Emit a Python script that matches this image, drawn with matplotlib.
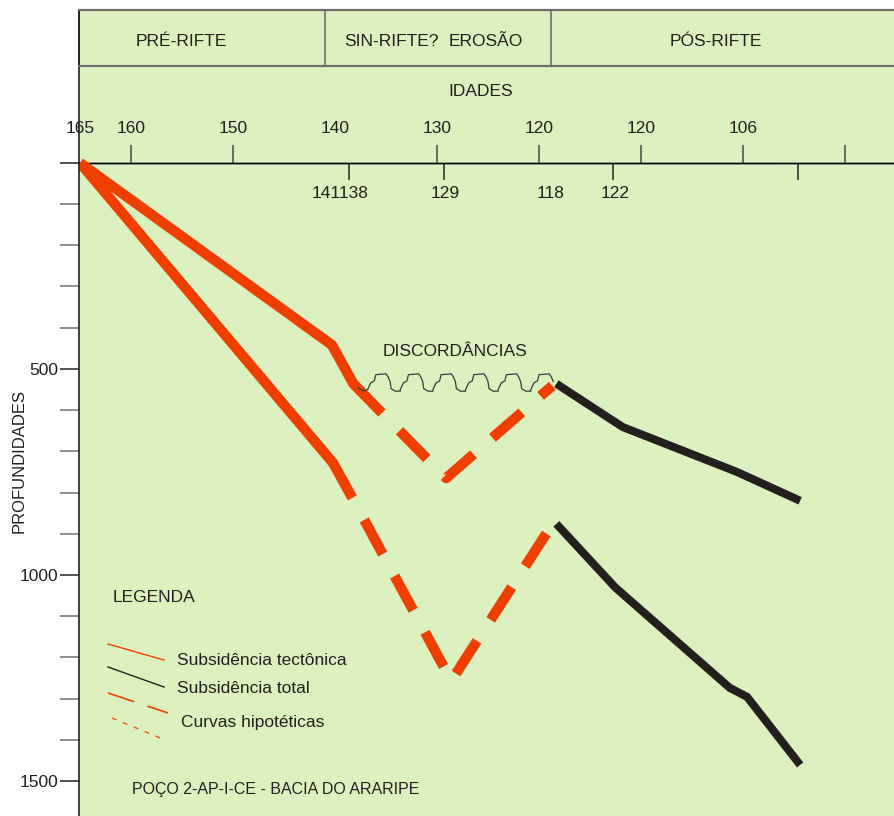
import numpy as np
import matplotlib.pyplot as plt

plt.rcParams['font.family'] = ['Liberation Sans', 'DejaVu Sans']
plt.rcParams['lines.scale_dashes'] = False

# curva superior (idade em Ma, profundidade em m)
sup_idade = [165, 140.3, 138.2, 135.4]
sup_prof = [0, 442, 536, 607]
sup_hip_idade = [135.4, 129.1, 118.7]
sup_hip_prof = [607, 765, 541]

# curva inferior
inf_idade = [165, 140.2, 138.3]
inf_prof = [0, 728, 813]
inf_hip_idade = [138.3, 128.6, 118.8]
inf_hip_prof = [813, 1257, 881]

# pos-rifte
pos_sup_idade = [118.3, 111.8, 100.6, 94.4]
pos_sup_prof = [536, 641, 750, 820]
pos_inf_idade = [118.3, 112.5, 101.3, 99.6, 94.4]
pos_inf_prof = [876, 1031, 1274, 1296, 1461]

# eixo de idades
idades_sup_pos = [165, 160, 150, 140, 130, 120, 110, 100]
idades_sup_txt = ['165', '160', '150', '140', '130', '120', '120', '106']
marcas_sup = [160, 150, 130, 120, 110, 100, 90]
idades_inf_pos = [139.5, 129.2, 118.9, 112.5]
idades_inf_txt = ['141138', '129', '118', '122']
marcas_inf = [138.6, 129.3, 112.7, 94.6]

# profundidades
prof_ticks = [0, 500, 1000, 1500]
prof_txt = ['', '500', '1000', '1500']
prof_menores = [100, 200, 300, 400, 600, 700, 800, 900, 1100, 1200, 1300, 1400]

# fases
fases = ['PRÉ-RIFTE', 'SIN-RIFTE?', 'EROSÃO', 'PÓS-RIFTE']
fases_pos = [155.1, 134.5, 125.2, 102.7]
fases_lim = [141.0, 118.8]

# simbolo da discordancia (um dente)
dente_dx = [0, 0.3, 0.65, 0.8, 1.8, 2.0, 2.2, 2.3, 2.7, 3.2]
dente_dy = [38, 22, 17, 2, 0, 7, 19, 36, 42, 42]

verde = '#dcf0c0'
vermelho = '#ee3f00'
preto = '#221f1c'
cinza = '#6e6e6e'
texto = '#231f20'
fs = 12.5

fig = plt.figure(figsize=(8.95, 8.16), dpi=100)
ax = fig.add_axes([79 / 895, 0, 816 / 895, 806 / 816])
ax.set_facecolor(verde)
ax.set_xlim(165.1, 85.1)
ax.set_ylim(1585, -371)
for s in ['top', 'right', 'bottom']:
    ax.spines[s].set_visible(False)
ax.spines['left'].set_color(preto)
ax.spines['left'].set_linewidth(1.2)
ax.tick_params(axis='x', bottom=False, labelbottom=False)

ax.set_yticks(prof_ticks, labels=prof_txt)
ax.set_yticks(prof_menores, minor=True)
ax.tick_params(axis='y', which='both', length=13.7, width=1.2, pad=1,
               labelsize=fs, labelcolor=texto)
ax.tick_params(axis='y', which='major', color='#333333')
ax.tick_params(axis='y', which='minor', color='#7a7a7a')

# eixo das idades na profundidade zero
topo = ax.secondary_xaxis(0, transform=ax.transData)
topo.set_alignment('top')
topo.xaxis.remove_overlapping_locs = False
topo.set_xticks(idades_sup_pos, labels=idades_sup_txt)
topo.set_xticks(marcas_sup, minor=True)
topo.tick_params(which='major', length=0, pad=19, labelsize=fs, labelcolor=texto)
topo.tick_params(which='minor', length=13, width=1.2, color='#555555')
topo.spines['top'].set_linewidth(1)
topo.spines['top'].set_color('black')

base = ax.secondary_xaxis(0, transform=ax.transData)
base.set_alignment('bottom')
base.xaxis.remove_overlapping_locs = False
base.set_xticks(idades_inf_pos, labels=idades_inf_txt)
base.set_xticks(marcas_inf, minor=True)
base.tick_params(which='major', length=0, pad=16.5, labelsize=fs, labelcolor=texto)
base.tick_params(which='minor', length=12.5, width=1.2, color='#333333')
base.spines['bottom'].set_linewidth(1)
base.spines['bottom'].set_color('black')

# curvas
kw = dict(solid_joinstyle='miter', solid_capstyle='butt', dash_capstyle='butt')
tracejado = (28, (28, 18))
ax.plot(sup_idade, sup_prof, color=vermelho, lw=7.4, **kw)
ax.plot(inf_idade, inf_prof, color=vermelho, lw=7.4, **kw)
ax.plot(sup_hip_idade, sup_hip_prof, color=vermelho, lw=7.4, ls=tracejado, **kw)
ax.plot(inf_hip_idade, inf_hip_prof, color=vermelho, lw=7.4, ls=tracejado, **kw)
ax.plot(pos_sup_idade, pos_sup_prof, color=preto, lw=5.8, **kw)
ax.plot(pos_inf_idade, pos_inf_prof, color=preto, lw=5.8, **kw)

# discordancia
onda_x = [137.75, 137.25]
onda_y = [546, 553]
for i in range(6):
    x0 = 136.8 - 3.2 * i
    for dx, dy in zip(dente_dx, dente_dy):
        if x0 - dx >= 118.6:
            onda_x.append(x0 - dx)
            onda_y.append(512 + dy)
ax.plot(onda_x, onda_y, color='#3a3a3a', lw=0.9)
ax.text(0.4608, 0.5757, 'DISCORDÂNCIAS', transform=ax.transAxes,
        ha='center', va='center', fontsize=fs, color=texto)

ax.text(0.4926, 0.8995, 'IDADES', transform=ax.transAxes,
        ha='center', va='center', fontsize=fs, color=texto)

# legenda
ax.text(0.0417, 0.2705, 'LEGENDA', transform=ax.transAxes,
        ha='left', va='center', fontsize=fs, color=texto)
ax.plot([0.0355, 0.1042], [0.2134, 0.1935], transform=ax.transAxes,
        color=vermelho, lw=1)
ax.plot([0.0355, 0.1042], [0.1849, 0.1600], transform=ax.transAxes,
        color=preto, lw=1)
ax.plot([0.0355, 0.1091], [0.1526, 0.1278], transform=ax.transAxes,
        color=vermelho, lw=1.2, dashes=(20, 10))
ax.plot([0.0404, 0.1029], [0.1216, 0.0955], transform=ax.transAxes,
        color=vermelho, lw=0.9, dashes=(3.5, 5))
ax.text(0.1201, 0.1935, 'Subsidência tectônica', transform=ax.transAxes,
        ha='left', va='center', fontsize=fs, color=texto)
ax.text(0.1201, 0.1576, 'Subsidência total', transform=ax.transAxes,
        ha='left', va='center', fontsize=fs, color=texto)
ax.text(0.1250, 0.1166, 'Curvas hipotéticas', transform=ax.transAxes,
        ha='left', va='center', fontsize=fs, color=texto)
ax.text(0.065, 0.0323, 'POÇO 2-AP-I-CE - BACIA DO ARARIPE', transform=ax.transAxes,
        ha='left', va='center', fontsize=11.5, color=texto)

# faixa das fases
cab = fig.add_axes([79 / 895, 750 / 816, 816 / 895, 56 / 816], sharex=ax)
cab.set_facecolor('none')
cab.set_ylim(0, 1)
cab.tick_params(bottom=False, labelbottom=False, left=False, labelleft=False)
cab.spines['right'].set_visible(False)
cab.spines['left'].set_color(preto)
cab.spines['left'].set_linewidth(1.2)
for s in ['top', 'bottom']:
    cab.spines[s].set_color(cinza)
    cab.spines[s].set_linewidth(1.6)
for lim in fases_lim:
    cab.axvline(lim, color=cinza, lw=1.2)
for nome, pos in zip(fases, fases_pos):
    cab.text(pos, 0.44, nome, ha='center', va='center', fontsize=fs, color=texto)

fig.text(19 / 895, 1 - 461 / 816, 'PROFUNDIDADES', rotation=90, ha='center',
         va='center', fontsize=12, color=texto)

fig.savefig('out.png', dpi=100)
